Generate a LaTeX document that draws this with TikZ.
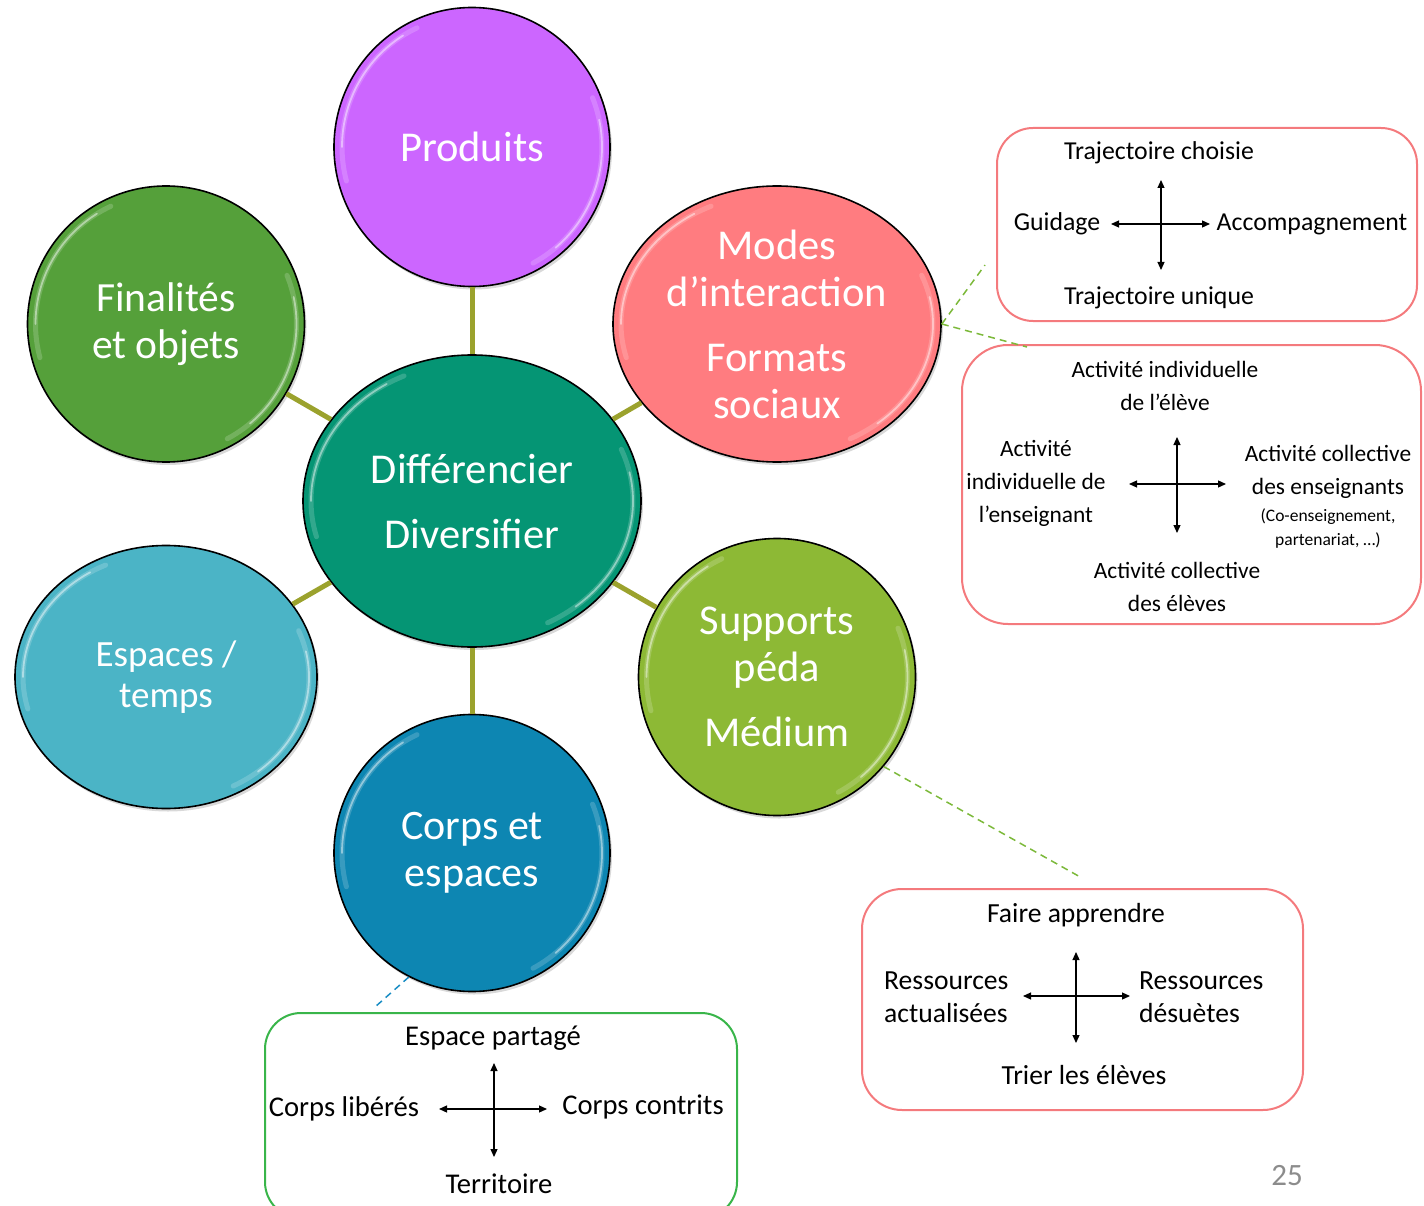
\documentclass[tikz,border=0pt]{standalone}
\usepackage{fontspec}
\setmainfont{Carlito}
\usetikzlibrary{shapes.geometric,arrows.meta,shadows}
\definecolor{cprod}{HTML}{CC66FF}
\definecolor{cfin}{HTML}{55A03A}
\definecolor{ccen}{HTML}{059574}
\definecolor{cmod}{HTML}{FF7C80}
\definecolor{cesp}{HTML}{4BB4C6}
\definecolor{csup}{HTML}{8DB935}
\definecolor{ccor}{HTML}{0D86B2}
\definecolor{clink}{HTML}{9BA22D}
\definecolor{credb}{HTML}{F47A7D}
\definecolor{cgreenb}{HTML}{39B54A}
\definecolor{cdashg}{HTML}{7CB93A}
\definecolor{cdashb}{HTML}{1A8DC4}
\definecolor{cpage}{HTML}{8C8C8C}
\newcommand\glossy[4]{%
  \draw[white,opacity=0.18,line width=5pt,line cap=round] plot[domain=165:245,samples=40] ({#1+(#3-8)*cos(\x)},{#2+(#4-8)*sin(\x)});
  \draw[white,opacity=0.45,line width=1.8pt,line cap=round] plot[domain=180:238,samples=40] ({#1+(#3-8)*cos(\x)},{#2+(#4-8)*sin(\x)});
  \draw[white,opacity=0.18,line width=5pt,line cap=round] plot[domain=-22:62,samples=40] ({#1+(#3-8)*cos(\x)},{#2+(#4-8)*sin(\x)});
  \draw[white,opacity=0.45,line width=1.8pt,line cap=round] plot[domain=-12:50,samples=40] ({#1+(#3-8)*cos(\x)},{#2+(#4-8)*sin(\x)});
}
\begin{document}
\begin{tikzpicture}[x=1pt,y=-1pt,
  bubble/.style={ellipse,draw=black,line width=1.6pt,inner sep=0pt,text=white,align=center,
    drop shadow={opacity=0.3,shadow xshift=2pt,shadow yshift=-3pt}},
  link/.style={draw=clink,line width=5pt},
  quad/.style={draw=credb,line width=2pt,rounded corners=#1,inner sep=0pt},
  quad/.default=38pt,
  dbl/.style={{Triangle[length=8pt,width=7pt]}-{Triangle[length=8pt,width=7pt]},line width=1.2pt},
  lbl/.style={text=black,inner sep=0pt,align=center,font=\fontsize{25.8}{33}\selectfont},
  slbl/.style={text=black,inner sep=0pt,align=center,font=\fontsize{23.4}{33}\selectfont},
  lblc/.style={text=black,inner sep=0pt,align=center,font=\fontsize{27.6}{33}\selectfont},
  lbld/.style={text=black,inner sep=0pt,align=center,font=\fontsize{28.6}{33}\selectfont},
  dashg/.style={draw=cdashg,line width=1.5pt,dash pattern=on 7pt off 5pt},
  dashbl/.style={draw=cdashb,line width=1.5pt,dash pattern=on 7pt off 5pt}]
\useasboundingbox (0,0) rectangle (1424,1206);
\clip (0,0) rectangle (1424,1206);

\coordinate (cc) at (472,501);
\coordinate (pc) at (472,147);
\coordinate (fc) at (166,324);
\coordinate (mc) at (777,324);
\coordinate (ec) at (166,677);
\coordinate (sc) at (777,677);
\coordinate (kc) at (472,853);

% bubbles
\node[bubble,fill=cprod,minimum width=276,minimum height=279,font=\fontsize{42.5}{47}\selectfont] (prod) at (pc) {Produits};
\node[bubble,fill=cfin,minimum width=277,minimum height=276,font=\fontsize{41.5}{47}\selectfont] (fin) at (fc) {Finalités\\et objets};
\node[bubble,fill=cmod,minimum width=328,minimum height=276,font=\fontsize{42.5}{47}\selectfont] (mod) at (mc) {Modes\\d’interaction\\[18pt]Formats\\sociaux};
\node[bubble,fill=cesp,minimum width=302,minimum height=263,font=\fontsize{37}{41}\selectfont] (esp) at (ec) {Espaces /\\temps};
\node[bubble,fill=csup,minimum width=277,minimum height=277,font=\fontsize{42.5}{47}\selectfont] (sup) at (sc) {Supports\\péda\\[18pt]Médium};
\node[bubble,fill=ccor,minimum width=276,minimum height=277,font=\fontsize{42}{47}\selectfont] (cor) at (kc) {Corps et\\espaces};
\node[bubble,fill=ccen,minimum width=338,minimum height=292,font=\fontsize{42.5}{65}\selectfont] (cen) at (cc) {Différencier\\Diversifier};

\glossy{472}{147}{138}{139.5}
\glossy{166}{324}{138.5}{138}
\glossy{777}{324}{164}{138}
\glossy{166}{677}{151}{131.5}
\glossy{777}{677}{138.5}{138.5}
\glossy{472}{853}{138}{138.5}
\glossy{472}{501}{169}{146}

\draw[link] (cen) -- (prod);
\draw[link] (cen) -- (fin);
\draw[link] (cen) -- (mod);
\draw[link] (cen) -- (esp);
\draw[link] (cen) -- (sup);
\draw[link] (cen) -- (cor);

% boxes
\node[quad=36pt,minimum width=420,minimum height=193] (b1) at (1207,224.5) {};
\node[quad=46pt,minimum width=459,minimum height=279] (b2) at (1191.5,484.5) {};
\node[quad=40pt,minimum width=441,minimum height=221] (b3) at (1082.5,999.5) {};
\node[quad=36pt,draw=cgreenb,minimum width=472,minimum height=205] (b4) at (501,1115.5) {};

% dashed leaders
\coordinate (d1) at (985,265);
\coordinate (d2) at (1027,347);
\coordinate (d3) at (1082,878);
\coordinate (d4) at (375,1007);
\draw[dashg] (mod.east) -- (d1);
\draw[dashg] (mod.east) -- (d2);
\draw[dashg] (sup.-40) -- (d3);
\draw[dashbl] (cor.-117) -- (d4);

% box 1
\node[lbl] (t1n) at (1159,153) {Trajectoire choisie};
\node[lbl] (t1w) at (1057,224) {Guidage};
\node[lbl] (t1e) at (1312,224) {Accompagnement};
\node[lbl] (t1s) at (1159,298) {Trajectoire unique};
\coordinate (a1n) at (1161,180); \coordinate (a1s) at (1161,270);
\coordinate (a1w) at (1111,224); \coordinate (a1e) at (1210,224);
\draw[dbl] (a1n) -- (a1s);
\draw[dbl] (a1w) -- (a1e);

% box 2
\node[slbl] (t2n) at (1165,386) {Activité individuelle\\de l’élève};
\node[slbl] (t2w) at (1036,483) {Activité\\individuelle de\\l’enseignant};
\node[slbl] (t2e) at (1328,472) {Activité collective\\des enseignants};
\node[slbl,font=\fontsize{17.5}{24}\selectfont] (t2e2) at (1328,529) {(Co-enseignement,\\partenariat, …)};
\node[slbl] (t2s) at (1177,587) {Activité collective\\des élèves};
\coordinate (a2n) at (1177,437); \coordinate (a2s) at (1177,533);
\coordinate (a2w) at (1129,484); \coordinate (a2e) at (1226,484);
\draw[dbl] (a2n) -- (a2s);
\draw[dbl] (a2w) -- (a2e);

% box 3
\node[lblc] (t3n) at (1076,915) {Faire apprendre};
\node[lblc,anchor=west,align=left] (t3w) at (884,997) {Ressources\\actualisées};
\node[lblc,anchor=west,align=left] (t3e) at (1139,997) {Ressources\\désuètes};
\node[lblc] (t3s) at (1084,1075) {Trier les élèves};
\coordinate (a3n) at (1076,952); \coordinate (a3s) at (1076,1043);
\coordinate (a3w) at (1023,996); \coordinate (a3e) at (1130,996);
\draw[dbl] (a3n) -- (a3s);
\draw[dbl] (a3w) -- (a3e);

% box 4
\node[lbld] (t4n) at (493,1038) {Espace partagé};
\node[lbld] (t4w) at (344,1109) {Corps libérés};
\node[lbld] (t4e) at (643,1107) {Corps contrits};
\node[lbld] (t4s) at (499,1184) {Territoire};
\coordinate (a4n) at (494,1063); \coordinate (a4s) at (494,1157);
\coordinate (a4w) at (439,1109); \coordinate (a4e) at (547,1109);
\draw[dbl] (a4n) -- (a4s);
\draw[dbl] (a4w) -- (a4e);

% page number
\node[text=cpage,inner sep=0pt,font=\fontsize{31}{36}\selectfont] (pg) at (1287,1176) {25};
\end{tikzpicture}
\end{document}
